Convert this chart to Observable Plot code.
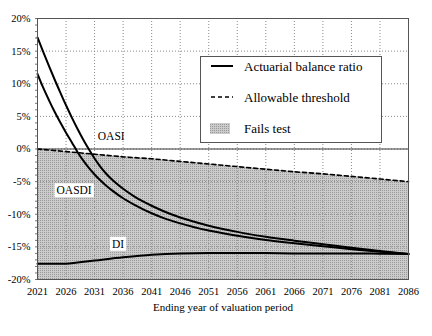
<!DOCTYPE html>
<html>
<head>
<meta charset="utf-8">
<script src="https://cdn.jsdelivr.net/npm/d3@7"></script>
<script src="https://cdn.jsdelivr.net/npm/@observablehq/plot@0.6"></script>
<style>
  html, body { margin: 0; padding: 0; background: white; }
  #chart { width: 432px; height: 336px; }
  #chart svg, #chart svg text { font-family: 'Liberation Serif', 'Times New Roman', serif !important; }
</style>
</head>
<body>
<div id="chart"></div>
<script>
// ---- Data ----
const ratioYears = [2021,2022,2023,2024,2025,2026,2027,2028,2029,2030,2031,2032,2033,2034,2036,2038,2041,2043,2046,2051,2056,2061,2066,2071,2076,2081,2086];
const oasiRatio  = [17.1,14.9,12.75,10.65,8.65,6.7,4.85,3.1,1.45,-0.05,-1.45,-2.7,-3.75,-4.65,-6.1,-7.3,-8.7,-9.5,-10.5,-11.75,-12.7,-13.45,-14.05,-14.6,-15.15,-15.65,-16.1];
const oasdiRatio = [11.5,9.4,7.5,5.7,4.05,2.5,1.05,-0.45,-1.75,-2.9,-3.9,-4.8,-5.6,-6.3,-7.55,-8.55,-9.85,-10.55,-11.4,-12.5,-13.3,-13.95,-14.45,-14.9,-15.35,-15.75,-16.1];
const diYears = [2021,2024,2026,2028,2031,2036,2041,2046,2051,2056,2061,2066,2071,2076,2081,2086];
const diRatio = [-17.6,-17.6,-17.6,-17.4,-17.1,-16.6,-16.2,-16.0,-15.95,-15.95,-15.95,-16.0,-16.0,-16.0,-16.05,-16.1];
const thresholdYears  = [2021,2026,2031,2036,2041,2046,2051,2056,2061,2066,2071,2076,2081,2086];
const thresholdValues = [0,-0.4,-0.8,-1.2,-1.5,-1.9,-2.3,-2.7,-3.1,-3.5,-3.8,-4.2,-4.6,-5.0];
const xTickYears = [2021,2026,2031,2036,2041,2046,2051,2056,2061,2066,2071,2076,2081,2086];
const yTicks = [-20,-15,-10,-5,0,5,10,15,20];
const yMinorTicks = d3.range(-20, 21, 1);
const seriesNames = ["OASI","OASDI","DI"];
const legendLabels = ["Actuarial balance ratio","Allowable threshold","Fails test"];
const xTitle = "Ending year of valuation period";

// ---- Tables built from the arrays ----
const oasi = ratioYears.map((y, i) => ({year: y, value: oasiRatio[i]}));
const oasdi = ratioYears.map((y, i) => ({year: y, value: oasdiRatio[i]}));
const di = diYears.map((y, i) => ({year: y, value: diRatio[i]}));
const threshold = thresholdYears.map((y, i) => ({year: y, value: thresholdValues[i]}));

const FONT = "'Liberation Serif', 'Times New Roman', serif";
const gridStyle = {stroke: "#8a8a8a", strokeOpacity: 1, strokeDasharray: "1,2", strokeWidth: 1};

const chart = Plot.plot({
  width: 432,
  height: 336,
  marginLeft: 37,
  marginRight: 24,
  marginTop: 18,
  marginBottom: 57,
  style: {fontFamily: FONT, fontSize: "10.5px", background: "white", color: "black", overflow: "visible"},
  x: {domain: [2021, 2086]},
  y: {domain: [-20, 20]},
  marks: [
    Plot.areaY(threshold, {x: "year", y1: -20, y2: "value", fill: "url(#failsPattern)"}),
    Plot.gridX({ticks: xTickYears, ...gridStyle}),
    Plot.gridY({ticks: yTicks, ...gridStyle}),
    Plot.ruleY([0], {stroke: "#3a3a3a", strokeWidth: 1}),
    Plot.line(threshold, {x: "year", y: "value", stroke: "black", strokeWidth: 1.6, strokeDasharray: "4,3"}),
    Plot.line(oasi, {x: "year", y: "value", stroke: "black", strokeWidth: 2, curve: "monotone-x"}),
    Plot.line(oasdi, {x: "year", y: "value", stroke: "black", strokeWidth: 2, curve: "monotone-x"}),
    Plot.line(di, {x: "year", y: "value", stroke: "black", strokeWidth: 2, curve: "monotone-x"}),
    Plot.axisX({ticks: xTickYears, tickFormat: d => String(d), tickSize: 0, tickPadding: 8, label: null}),
    Plot.axisY({ticks: yMinorTicks, tickSize: 2, text: null, label: null, stroke: "#777"}),
    Plot.axisY({ticks: yTicks, tickFormat: d => d + "%", tickSize: 0, tickPadding: 7, label: null}),
    Plot.text([xTitle], {frameAnchor: "bottom", dy: 31, fontSize: 11, fill: "black"}),
    Plot.frame({stroke: "#555", strokeWidth: 1})
  ]
});

document.getElementById("chart").appendChild(chart);

const svg = d3.select(chart);
// pattern for the "fails test" region
const defs = svg.insert("defs", ":first-child");
const pat = defs.append("pattern").attr("id", "failsPattern")
  .attr("patternUnits", "userSpaceOnUse").attr("width", 2).attr("height", 2);
pat.append("rect").attr("width", 2).attr("height", 2).attr("fill", "#cbcbcb");
pat.append("rect").attr("width", 1).attr("height", 1).attr("fill", "#9a9a9a");

const sx = chart.scale("x"), sy = chart.scale("y");

// series labels
const labelPos = [[2034, 1.9, false], [2027.5, -6.4, true], [2035.2, -14.6, true]];
const lblLayer = svg.append("g").attr("font-family", FONT).attr("font-size", "11.5px");
seriesNames.forEach((name, i) => {
  const [yr, v, boxed] = labelPos[i];
  const px = sx.apply(yr), py = sy.apply(v);
  const t = lblLayer.append("text").attr("x", px).attr("y", py)
    .attr("text-anchor", "middle").attr("dominant-baseline", "central")
    .attr("fill", "black").text(name);
  if (boxed) {
    const b = t.node().getBBox();
    lblLayer.insert("rect", () => t.node())
      .attr("x", b.x - 2).attr("y", py - 7).attr("width", b.width + 4).attr("height", 14)
      .attr("fill", "white");
  }
});

// legend
const lg = svg.append("g").attr("font-family", FONT).attr("font-size", "13px").attr("text-anchor", "start");
lg.append("rect").attr("x", 200.5).attr("y", 56.5).attr("width", 181).attr("height", 86)
  .attr("fill", "white").attr("stroke", "#555").attr("stroke-width", 1);
const rows = [66, 97, 128];
lg.append("line").attr("x1", 211).attr("x2", 233).attr("y1", rows[0]).attr("y2", rows[0])
  .attr("stroke", "black").attr("stroke-width", 2);
lg.append("line").attr("x1", 211).attr("x2", 233).attr("y1", rows[1]).attr("y2", rows[1])
  .attr("stroke", "black").attr("stroke-width", 1.5).attr("stroke-dasharray", "4,3");
lg.append("rect").attr("x", 210).attr("y", rows[2] - 5).attr("width", 20).attr("height", 11)
  .attr("fill", "url(#failsPattern)");
legendLabels.forEach((t, i) => {
  lg.append("text").attr("x", 244).attr("y", rows[i]).attr("dominant-baseline", "central")
    .attr("text-anchor", "start").attr("fill", "black").text(t);
});
</script>
</body>
</html>
